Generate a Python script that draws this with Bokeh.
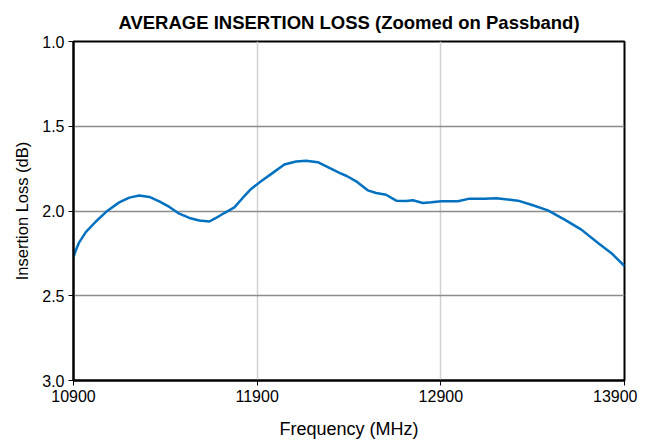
from bokeh.plotting import figure
from bokeh.models import Range1d, FixedTicker, NumeralTickFormatter
from bokeh.embed import file_html
from bokeh.resources import INLINE

freq_mhz = [10900, 10915, 10931, 10967, 11022, 11085, 11149, 11204, 11258, 11313, 11367,
            11422, 11476, 11531, 11585, 11640, 11676, 11721, 11776, 11821, 11867,
            11921, 11985, 12048, 12112, 12166, 12230, 12293, 12348, 12390, 12439,
            12502, 12548, 12602, 12657, 12711, 12748, 12802, 12848, 12902, 12993,
            13056, 13138, 13202, 13320, 13393, 13483, 13574, 13665, 13756, 13829,
            13900]
loss_db = [2.272, 2.225, 2.185, 2.125, 2.062, 1.998, 1.949, 1.921, 1.909, 1.917, 1.943,
           1.976, 2.016, 2.041, 2.056, 2.062, 2.041, 2.012, 1.979, 1.923, 1.870,
           1.825, 1.775, 1.726, 1.708, 1.704, 1.712, 1.746, 1.775, 1.795, 1.825,
           1.878, 1.894, 1.904, 1.939, 1.941, 1.937, 1.953, 1.949, 1.943, 1.943,
           1.927, 1.927, 1.925, 1.939, 1.963, 1.996, 2.051, 2.11, 2.189, 2.249,
           2.325]
x_ticks = [10900, 11900, 12900, 13900]
y_ticks = [1.0, 1.5, 2.0, 2.5, 3.0]

FONT = "Liberation Sans"

p = figure(width=637, height=441, output_backend="svg", toolbar_location=None,
           x_range=Range1d(10900, 13900), y_range=Range1d(3.0, 1.0),
           title="AVERAGE INSERTION LOSS (Zoomed on Passband)",
           min_border_left=73, min_border_right=13, min_border_top=41, min_border_bottom=55)

p.title.text_font = FONT
p.title.text_font_size = "18.5px"
p.title.text_font_style = "bold"
p.title.align = "center"
p.title.offset = -9
p.title.standoff = 18
p.title.text_color = "black"

p.line(freq_mhz, loss_db, line_color="#0070C0", line_width=2.5, line_join="round")

p.xaxis.ticker = FixedTicker(ticks=x_ticks)
p.yaxis.ticker = FixedTicker(ticks=y_ticks)
p.yaxis.formatter = NumeralTickFormatter(format="0.0")
p.xaxis.formatter = NumeralTickFormatter(format="0")

for ax in (p.xaxis[0], p.yaxis[0]):
    ax.axis_line_color = "black"
    ax.axis_line_width = 2
    ax.major_tick_line_color = "black"
    ax.major_tick_in = 0
    ax.major_tick_out = 5
    ax.minor_tick_line_color = None
    ax.major_label_text_font = FONT
    ax.major_label_text_font_size = "16px"
    ax.major_label_text_color = "black"
    ax.axis_label_text_font = FONT
    ax.axis_label_text_font_style = "normal"
    ax.axis_label_text_color = "black"

p.xaxis.axis_label = "Frequency (MHz)"
p.yaxis.axis_label = "Insertion Loss (dB)"
p.xaxis.axis_label_text_font_size = "18px"
p.yaxis.axis_label_text_font_size = "16.5px"
p.xaxis.major_label_standoff = 4
p.yaxis.major_label_standoff = 4
p.xaxis.axis_label_standoff = 14
p.yaxis.axis_label_standoff = 8

p.xgrid.grid_line_color = "#d0d0d0"
p.xgrid.grid_line_width = 1.5
p.ygrid.grid_line_color = "#8c8c8c"
p.ygrid.grid_line_width = 1.5

p.outline_line_color = "black"
p.outline_line_width = 2
p.outline_line_alpha = 1
p.background_fill_color = "white"
p.border_fill_color = "white"

open("out.html", "w").write(file_html(p, INLINE))
